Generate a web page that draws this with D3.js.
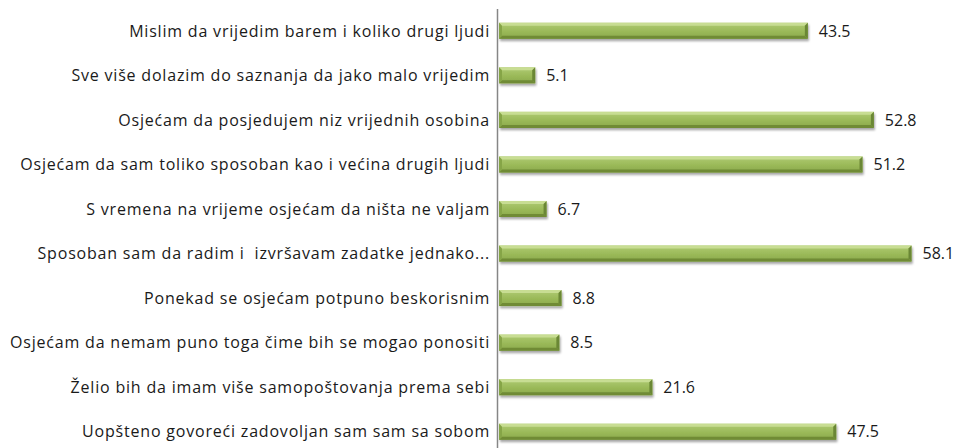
<!DOCTYPE html>
<html>
<head>
<meta charset="utf-8">
<script src="https://cdn.jsdelivr.net/npm/d3@7"></script>
<style>
  html, body { margin: 0; padding: 0; background: #fff; }
  svg { display: block; }
</style>
</head>
<body>
<svg id="chart" width="960" height="448"></svg>
<script>
// Survey statements (top to bottom) and share of respondents, in percent
const statements = [
  "Mislim da vrijedim barem i koliko drugi ljudi",
  "Sve više dolazim do saznanja da jako malo vrijedim",
  "Osjećam da posjedujem niz vrijednih osobina",
  "Osjećam da sam toliko sposoban kao i većina drugih ljudi",
  "S vremena na vrijeme osjećam da ništa ne valjam",
  "Sposoban sam da radim i  izvršavam zadatke jednako...",
  "Ponekad se osjećam potpuno beskorisnim",
  "Osjećam da nemam puno toga čime bih se mogao ponositi",
  "Želio bih da imam više samopoštovanja prema sebi",
  "Uopšteno govoreći zadovoljan sam sam sa sobom"
];
const percents = [43.5, 5.1, 52.8, 51.2, 6.7, 58.1, 8.8, 8.5, 21.6, 47.5];

const svg = d3.select("#chart");
const font = "'Open Sans', 'Noto Sans', sans-serif";
const axisX = 497.5;
const x0 = 499;

const x = d3.scaleLinear().domain([0, 58.1]).range([x0, 911.5]);
const y = d3.scaleBand()
  .domain(statements)
  .range([8.5, 454])
  .paddingInner(0.64)
  .paddingOuter(0.32);

const defs = svg.append("defs");
const face = defs.append("linearGradient")
  .attr("id", "face").attr("x1", 0).attr("y1", 0).attr("x2", 0).attr("y2", 1);
face.append("stop").attr("offset", "0%").attr("stop-color", "#b0cb74");
face.append("stop").attr("offset", "55%").attr("stop-color", "#9ab958");
face.append("stop").attr("offset", "100%").attr("stop-color", "#8aa84a");

const shadow = defs.append("filter").attr("id", "shadow")
  .attr("x", "-5%").attr("y", "-40%").attr("width", "110%").attr("height", "200%");
shadow.append("feDropShadow")
  .attr("dx", 1).attr("dy", 2.2).attr("stdDeviation", 1.3)
  .attr("flood-color", "#000").attr("flood-opacity", 0.35);

const rows = statements.map((s, i) => ({ s, v: percents[i] }));

const bars = svg.append("g").selectAll("g.bar")
  .data(rows)
  .join("g").attr("class", "bar");

const bev = 3;
bars.each(function (d) {
  const g = d3.select(this);
  const l = x(0), r = x(d.v), t = y(d.s), h = y.bandwidth(), b = t + h;
  const grp = g.append("g").attr("filter", "url(#shadow)");
  grp.append("rect").attr("x", l).attr("y", t).attr("width", r - l).attr("height", h)
    .attr("fill", "url(#face)");
  const poly = (pts, fill) => grp.append("polygon")
    .attr("points", pts.map(p => p.join(",")).join(" ")).attr("fill", fill);
  // bevelled edges: light top, dark bottom, shaded ends
  poly([[l, t], [r, t], [r - bev, t + bev], [l + bev, t + bev]], "#c8dd93");
  poly([[l, b], [r, b], [r - bev, b - bev], [l + bev, b - bev]], "#6f8b36");
  poly([[l, t], [l + bev, t + bev], [l + bev, b - bev], [l, b]], "#86a546");
  poly([[r, t], [r - bev, t + bev], [r - bev, b - bev], [r, b]], "#6b8734");
});

// value labels
svg.append("g").selectAll("text")
  .data(rows)
  .join("text")
  .attr("x", d => x(d.v) + 11)
  .attr("y", d => y(d.s) + y.bandwidth() / 2)
  .attr("dy", "0.36em")
  .attr("font-family", font)
  .attr("font-size", 16)
  .attr("fill", "#1a1a1a")
  .text(d => d.v.toFixed(1));

// category labels, spaced so the longest one spans the left margin
const labels = svg.append("g").selectAll("text")
  .data(statements)
  .join("text")
  .attr("x", 490)
  .attr("y", d => y(d) + y.bandwidth() / 2)
  .attr("dy", "0.36em")
  .attr("text-anchor", "end")
  .attr("font-family", font)
  .attr("font-size", 16)
  .attr("fill", "#1a1a1a")
  .style("white-space", "pre")
  .text(d => d);

let widest = 0;
labels.each(function () { widest = Math.max(widest, this.getComputedTextLength()); });
const extra = (480 - widest) / 53;
labels.attr("letter-spacing", extra > 0 ? extra : 0);

// vertical category axis line
svg.append("line")
  .attr("x1", axisX).attr("x2", axisX)
  .attr("y1", 9).attr("y2", 448)
  .attr("stroke", "#868686").attr("stroke-width", 1.5);
</script>
</body>
</html>
